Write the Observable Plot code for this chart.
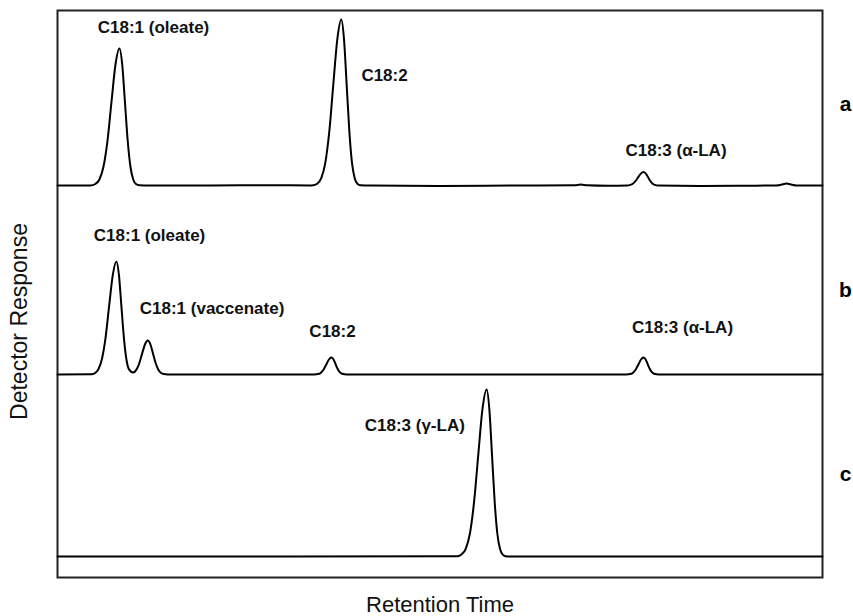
<!DOCTYPE html>
<html>
<head>
<meta charset="utf-8">
<script src="https://cdn.jsdelivr.net/npm/d3@7"></script>
<script src="https://cdn.jsdelivr.net/npm/@observablehq/plot@0.6"></script>
<style>
  html, body { margin: 0; padding: 0; background: #fff; }
</style>
</head>
<body>
<div id="chart"></div>
<script>
// Gas chromatograms of C18 fatty acid methyl esters: three samples (a, b, c),
// each trace given as [retention time, detector response above its baseline].
const traceA = [
  [0, 0], [4.3, 0], [4.95, 1.5], [5.48, 6], [6.0, 18.5], [6.53, 44.5], [7.05, 83], [7.58, 121],
  [8.1, 137], [8.46, 121], [8.82, 83], [9.18, 44.5], [9.54, 18.5], [9.9, 6], [10.26, 1.5],
  [10.7, 0.2], [12, 0], [20, 0], [28, 0.3], [33, 0],
  [33.42, 0.3], [33.95, 1.8], [34.48, 7.3], [35.0, 22.4], [35.53, 54], [36.05, 100.8], [36.58, 146.4],
  [37.1, 166], [37.45, 146.4], [37.8, 100.8], [38.15, 54], [38.5, 22.4], [38.85, 7.3], [39.2, 1.8],
  [39.6, 0.3], [41, 0], [50, -0.4], [60, 0], [67.6, 0.2], [68.4, 0.9], [69.2, 0.2], [72, -0.3], [74.5, 0],
  [74.85, 0.6], [75.2, 1.8], [75.55, 4.4], [75.9, 8.2], [76.25, 11.9], [76.6, 13.5], [76.9, 11.9],
  [77.2, 8.2], [77.5, 4.4], [77.8, 1.8], [78.1, 0.6], [78.5, 0], [84, -0.4], [90, -0.2],
  [94, 0], [94.6, 0.8], [95.3, 2], [96, 0.8], [96.6, 0], [100, 0]
];

const traceB = [
  [0, 0], [4.4, 0.3], [4.85, 1.2], [5.33, 5], [5.8, 15.3], [6.28, 36.7], [6.75, 68.6], [7.23, 99.7],
  [7.7, 113], [8.03, 99.7], [8.35, 68.6], [8.68, 36.7], [9.0, 15.5], [9.33, 5.4], [9.9, 2],
  [10.3, 4.6], [10.68, 11], [11.05, 20.6], [11.43, 30], [11.8, 34], [12.15, 30], [12.5, 20.6],
  [12.85, 11], [13.2, 4.6], [13.55, 1.5], [13.9, 0.4], [14.4, 0], [25, 0], [33.5, 0],
  [34.2, 0.7], [34.5, 2.3], [34.83, 5.5], [35.15, 10.3], [35.48, 15], [35.8, 17], [36.08, 15],
  [36.35, 10.3], [36.63, 5.5], [36.9, 2.3], [37.2, 0.7], [37.8, 0], [50, 0], [74.3, 0],
  [75.0, 0.7], [75.3, 2.3], [75.63, 5.5], [75.95, 10.3], [76.28, 15], [76.6, 17], [76.88, 15],
  [77.15, 10.3], [77.43, 5.5], [77.7, 2.3], [78.0, 0.7], [78.6, 0], [100, 0]
];

const traceC = [
  [0, 0], [30, 0], [52.3, 0.3], [52.8, 2], [53.35, 7.4], [53.9, 22.5], [54.45, 54.3], [55.0, 101.4],
  [55.55, 147.3], [56.1, 167], [56.45, 147.3], [56.8, 101.4], [57.15, 54.3], [57.5, 22.5],
  [57.85, 7.4], [58.2, 1.8], [58.55, 0.3], [59.2, 0], [80, 0], [100, 0]
];

// Vertical offset of each trace's baseline in the stacked display
const traceNames = ["a", "b", "c"];
const traceOffsets = [371, 182, 0];
const traceLetterY = [452, 266, 82];

// Peak annotations
const peakLabels = [
  "C18:1 (oleate)", "C18:2", "C18:3 (α-LA)",
  "C18:1 (oleate)", "C18:1 (vaccenate)", "C18:2", "C18:3 (α-LA)",
  "C18:3 (γ-LA)"
];
const peakLabelTime = [12.55, 42.75, 80.85, 12.03, 20.2, 35.95, 81.7, 46.7];
const peakLabelY = [529, 481, 406, 321, 248, 225, 229, 131];

const traces = [traceA, traceB, traceC];
const points = traces.flatMap((tr, i) =>
  tr.map(([t, v]) => ({trace: traceNames[i], t, v: v + traceOffsets[i]}))
);
const labelRows = peakLabels.map((text, i) => ({text, t: peakLabelTime[i], y: peakLabelY[i]}));
const letterRows = traceNames.map((name, i) => ({name, y: traceLetterY[i]}));

const font = "'Liberation Sans', Arial, Helvetica, sans-serif";

const chart = Plot.plot({
  width: 853,
  height: 616,
  marginLeft: 57,
  marginRight: 31,
  marginTop: 10,
  marginBottom: 39,
  style: {fontFamily: font, background: "#fff", color: "#000"},
  x: {domain: [0, 100], axis: null},
  y: {domain: [-21, 546], axis: null},
  marks: [
    Plot.frame({stroke: "#222", strokeWidth: 2}),
    Plot.line(points, {
      x: "t", y: "v", z: "trace",
      curve: "monotone-x",
      stroke: "#000", strokeWidth: 2
    }),
    Plot.text(labelRows, {
      x: "t", y: "y", text: "text",
      fontSize: 17, fontWeight: "bold", fill: "#111",
      textAnchor: "middle", lineAnchor: "middle"
    }),
    Plot.text(letterRows, {
      y: "y", text: "name", frameAnchor: "right", dx: 23,
      fontSize: 21, fontWeight: "bold", fill: "#000",
      textAnchor: "middle", lineAnchor: "middle"
    }),
    Plot.text(["Retention Time"], {
      frameAnchor: "bottom", dy: 27,
      fontSize: 22, fill: "#111",
      textAnchor: "middle", lineAnchor: "middle"
    }),
    // axis title sits a little below the frame's vertical centre
    Plot.text(["Detector Response"], {
      x: 0, y: 235, dx: -38, rotate: -90,
      fontSize: 23, fill: "#111",
      textAnchor: "middle", lineAnchor: "middle"
    })
  ]
});

document.getElementById("chart").appendChild(chart);
</script>
</body>
</html>
